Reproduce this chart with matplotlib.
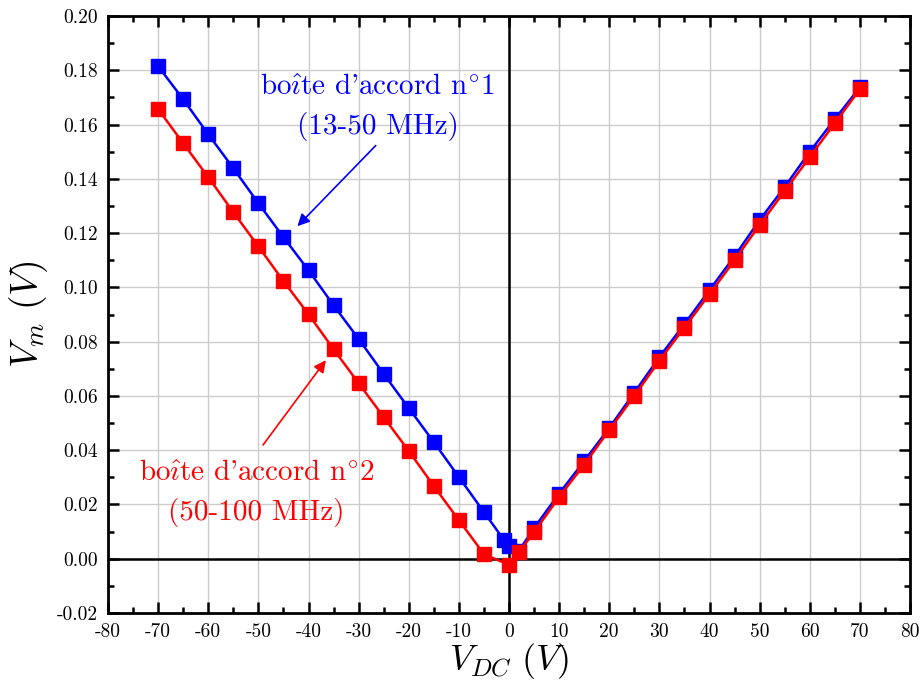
import matplotlib
matplotlib.use('Agg')
import matplotlib.pyplot as plt
from matplotlib.ticker import MultipleLocator, FormatStrFormatter

plt.rcParams['font.family'] = ['cmr10', 'DejaVu Serif']
plt.rcParams['mathtext.fontset'] = 'cm'
plt.rcParams['axes.unicode_minus'] = False
plt.rcParams['axes.formatter.use_mathtext'] = True

# boite d'accord n°1 (13-50 MHz)
x1 = [-70, -65, -60, -55, -50, -45, -40, -35, -30, -25, -20, -15, -10, -5, -1, 0, 2,
      5, 10, 15, 20, 25, 30, 35, 40, 45, 50, 55, 60, 65, 70]
v1 = [0.1815, 0.1693, 0.1564, 0.1439, 0.1310, 0.1185, 0.1063, 0.0934, 0.0810, 0.0681,
      0.0555, 0.0430, 0.0301, 0.0172, 0.0069, 0.0047, 0.0030,
      0.0113, 0.0240, 0.0360, 0.0482, 0.0612, 0.0743, 0.0865, 0.0990, 0.1115,
      0.1248, 0.1370, 0.1500, 0.1620, 0.1737]

# boite d'accord n°2 (50-100 MHz)
x2 = [-70, -65, -60, -55, -50, -45, -40, -35, -30, -25, -20, -15, -10, -5, 0, 2,
      5, 10, 15, 20, 25, 30, 35, 40, 45, 50, 55, 60, 65, 70]
v2 = [0.1657, 0.1531, 0.1406, 0.1277, 0.1151, 0.1023, 0.0901, 0.0772, 0.0647, 0.0522,
      0.0397, 0.0268, 0.0142, 0.0017, -0.0023, 0.0025,
      0.0098, 0.0227, 0.0347, 0.0474, 0.0600, 0.0730, 0.0852, 0.0975, 0.1100,
      0.1230, 0.1355, 0.1480, 0.1605, 0.1730]

label1 = r"bo$\hat{\imath}$te d'accord n$^{\circ}$1" + "\n(13-50 MHz)"
label2 = r"bo$\hat{\imath}$te d'accord n$^{\circ}$2" + "\n(50-100 MHz)"

fig = plt.figure(figsize=(9.24, 6.8), dpi=100)
ax = fig.add_axes([108/924, 1-613/680, 802/924, 597/680])
ax.set_axisbelow(True)

ax.axhline(0, color='black', lw=1.8, zorder=2)
ax.axvline(0, color='black', lw=1.8, zorder=2)

ax.plot(x1, v1, '-s', color='blue', lw=1.8, ms=10, zorder=3)
ax.plot(x2, v2, '-s', color='red', lw=1.8, ms=10, zorder=4)

ax.set_xlim(-80, 80)
ax.set_ylim(-0.02, 0.20)
ax.xaxis.set_major_locator(MultipleLocator(10))
ax.xaxis.set_minor_locator(MultipleLocator(5))
ax.yaxis.set_major_locator(MultipleLocator(0.02))
ax.yaxis.set_minor_locator(MultipleLocator(0.01))
ax.yaxis.set_major_formatter(FormatStrFormatter('%.2f'))
ax.xaxis.set_major_formatter(FormatStrFormatter('%d'))
ax.grid(True, which='major', color='#cccccc', lw=1)
ax.tick_params(which='both', direction='in', top=True, right=True, width=1.8,
               labelsize=14, pad=7)
ax.tick_params(which='major', length=8)
ax.tick_params(which='minor', length=4)
for s in ax.spines.values():
    s.set_linewidth(2)
    s.set_zorder(5)

ax.set_xlabel(r'$V_{DC}\ (V)$', fontsize=26)
ax.set_ylabel(r'$V_m\ (V)$', fontsize=27)
ax.xaxis.set_label_coords(0.5, -0.047)
ax.yaxis.set_label_coords(-0.072, 0.5)

ax.text(-26.2, 0.166, label1, color='blue',
        fontsize=21, ha='center', va='center', multialignment='center', linespacing=1.5)
ax.annotate('', xy=(-42.6, 0.1218), xytext=(-26.2, 0.153),
            arrowprops=dict(arrowstyle='-|>', color='blue', lw=1.2, mutation_scale=18))
ax.text(-50.4, 0.0238, label2, color='red',
        fontsize=21, ha='center', va='center', multialignment='center', linespacing=1.5)
ax.annotate('', xy=(-36.2, 0.074), xytext=(-49.4, 0.0411),
            arrowprops=dict(arrowstyle='-|>', color='red', lw=1.2, mutation_scale=18))

fig.savefig('out.png', dpi=100)
